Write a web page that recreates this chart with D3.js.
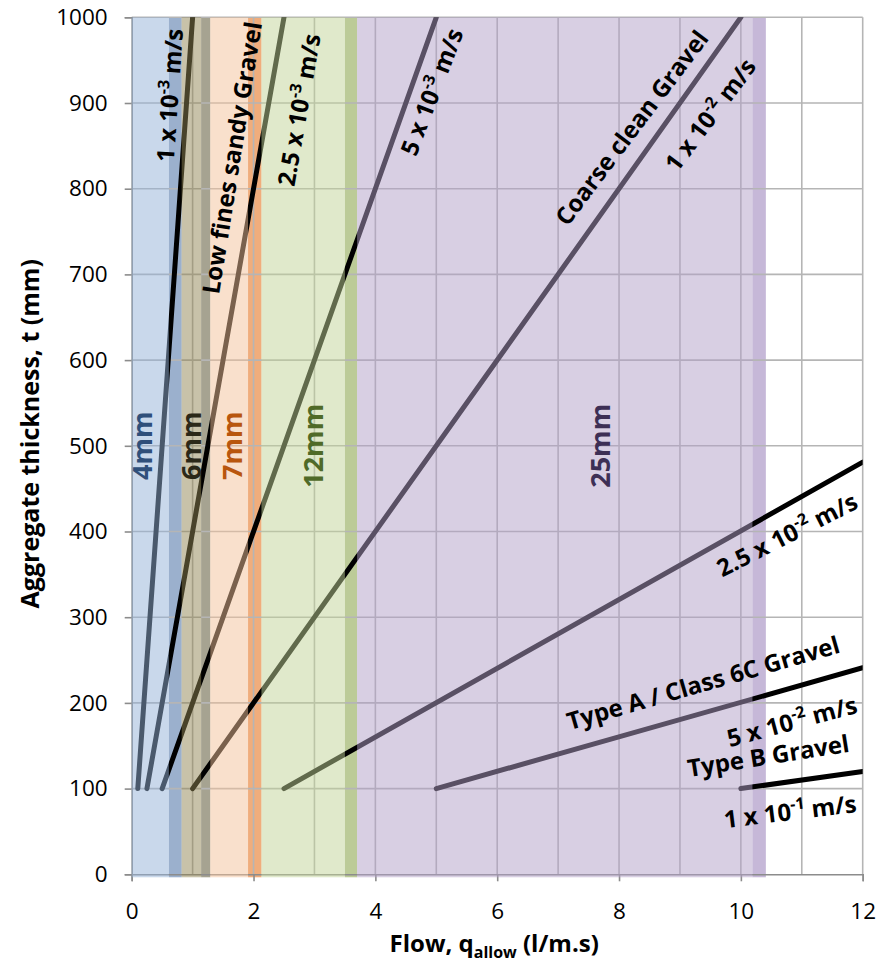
<!DOCTYPE html>
<html>
<head>
<meta charset="utf-8">
<script src="https://cdn.jsdelivr.net/npm/d3@7"></script>
<style>
  body { margin: 0; background: #fff; }
  text { font-family: "Open Sans", sans-serif; }
</style>
</head>
<body>
<svg id="chart" width="877" height="968"></svg>
<script>
// permeability lines: flow q (l/m.s) at t = 100 mm and at the far end
const rateNames = ["1e-3", "2.5e-3", "5e-3", "1e-2", "2.5e-2", "5e-2", "1e-1"];
const startQ = [0.1, 0.25, 0.5, 1, 2.5, 5, 10];
const startT = [100, 100, 100, 100, 100, 100, 100];
const endQ = [1, 2.5, 5, 10, 12, 12, 12];
const endT = [1000, 1000, 1000, 1000, 481, 241, 120];

// aggregate size bands (flow ranges)
const bandNames = ["4mm", "6mm", "7mm", "12mm", "25mm"];
const bandStart = [0, 0.82, 1.29, 2.13, 3.70];
const bandEdge = [0.61, 1.14, 1.91, 3.50, 10.19];
const bandEnd = [0.82, 1.29, 2.13, 3.70, 10.41];

const xTicks = [0, 2, 4, 6, 8, 10, 12];
const yTicks = [0, 100, 200, 300, 400, 500, 600, 700, 800, 900, 1000];

const annoText = ["1 x 10^-3 m/s", "Low fines sandy Gravel", "2.5 x 10^-3 m/s", "5 x 10^-3 m/s",
    "Coarse clean Gravel", "1 x 10^-2 m/s", "2.5 x 10^-2 m/s", "Type A / Class 6C Gravel",
    "5 x 10^-2 m/s", "Type B Gravel", "1 x 10^-1 m/s"];

const svg = d3.select("#chart"),
      margin = { top: 17.3, right: 14.3, bottom: 93.7, left: 131.7 },
      width = +svg.attr("width") - margin.left - margin.right,
      height = +svg.attr("height") - margin.top - margin.bottom;

const g = svg.append("g")
    .attr("transform", `translate(${margin.left},${margin.top})`);

const x = d3.scaleLinear().domain([0, 12]).range([0, width]);
const y = d3.scaleLinear().domain([0, 1000]).range([height, 0]);

// styling per band
const bandLight = ["#93b1d7", "#928553", "#f4c29a", "#c2d398", "#b2a0c8"];
const bandStrip = ["#9bb0cd", "#a6a391", "#f0ad7c", "#bccb98", "#c6b8d8"];
const bandText = ["#2f4f7a", "#2b2818", "#b8560e", "#4f6a28", "#3d2f55"];
const bands = bandNames.map((n, i) => ({
    name: n, x0: bandStart[i], xe: bandEdge[i], x1: bandEnd[i],
    light: bandLight[i], strip: bandStrip[i], text: bandText[i]
}));

// darker strips sit under the lines
g.selectAll(".strip")
    .data(bands)
    .enter()
    .append("rect")
    .attr("class", "strip")
    .attr("x", d => x(d.xe))
    .attr("width", d => x(d.x1) - x(d.xe))
    .attr("y", y(1000))
    .attr("height", height + 3)
    .attr("fill", d => d.strip);

// gridlines
g.selectAll(".vgrid")
    .data(d3.range(1, 13))
    .enter()
    .append("line")
    .attr("x1", d => x(d)).attr("x2", d => x(d))
    .attr("y1", 0).attr("y2", height)
    .attr("stroke", "#b5b5b5")
    .attr("stroke-width", 1.6);

g.selectAll(".hgrid")
    .data(yTicks.slice(1))
    .enter()
    .append("line")
    .attr("x1", 0).attr("x2", width)
    .attr("y1", d => y(d)).attr("y2", d => y(d))
    .attr("stroke", "#b5b5b5")
    .attr("stroke-width", 1.6);

// axes
const xAxis = g.append("g")
    .attr("transform", `translate(0,${height})`)
    .call(d3.axisBottom(x).tickValues(xTicks).tickSize(7).tickPadding(22));
const yAxis = g.append("g")
    .call(d3.axisLeft(y).tickValues(yTicks).tickFormat(d3.format("d")).tickSize(7).tickPadding(17));

[xAxis, yAxis].forEach(a => {
    a.select(".domain").attr("stroke", "#8c8c8c").attr("stroke-width", 1.6);
    a.selectAll(".tick line").attr("stroke", "#8c8c8c").attr("stroke-width", 1.6);
    a.selectAll("text")
        .attr("font-family", "Open Sans, sans-serif")
        .attr("font-size", "22.5px")
        .attr("fill", "#000");
});

// permeability lines
svg.append("clipPath").attr("id", "plotClip")
    .append("rect")
    .attr("width", width).attr("height", height);

const lines = rateNames.map((n, i) => ({
    name: n, pts: [[startQ[i], startT[i]], [endQ[i], endT[i]]]
}));

g.append("g")
    .attr("clip-path", "url(#plotClip)")
    .selectAll("path")
    .data(lines)
    .enter()
    .append("path")
    .attr("d", d => d3.line().x(p => x(p[0])).y(p => y(p[1]))(d.pts))
    .attr("fill", "none")
    .attr("stroke", "#000")
    .attr("stroke-width", 5)
    .attr("stroke-linecap", "round");

// translucent bands over the lines
g.selectAll(".band")
    .data(bands)
    .enter()
    .append("rect")
    .attr("class", "band")
    .attr("x", d => x(d.x0))
    .attr("width", d => x(d.xe) - x(d.x0))
    .attr("y", y(1000))
    .attr("height", height + 3)
    .attr("fill", d => d.light)
    .attr("opacity", 0.5);

// band labels
const bandLabelQ = [0.17, 0.99, 1.65, 2.98, 7.69];
g.selectAll(".band-label")
    .data(bands)
    .enter()
    .append("text")
    .attr("class", "band-label")
    .attr("transform", (d, i) => `translate(${x(bandLabelQ[i])},${y(500)}) rotate(-90)`)
    .attr("text-anchor", "middle")
    .attr("dy", "0.35em")
    .attr("font-size", "27px")
    .attr("font-weight", "bold")
    .attr("fill", d => d.text)
    .text(d => d.name);

// line annotations, positions in data units
const annoQ = [0.63, 1.65, 2.75, 4.93, 8.21, 9.50, 10.76, 9.38, 10.84, 10.45, 10.81];
const annoT = [909, 836, 892, 913, 871, 886, 396, 223, 178, 138, 73];
const annoAngle = [-86, -81, -80, -69, -53, -53, -27, -16, -15, -9, -7];

annoText.forEach((txt, i) => {
    const t = g.append("text")
        .attr("transform", `translate(${x(annoQ[i])},${y(annoT[i])}) rotate(${annoAngle[i]})`)
        .attr("text-anchor", "middle")
        .attr("dy", "0.35em")
        .attr("font-size", "24px")
        .attr("font-weight", "bold")
        .attr("fill", "#000");
    const parts = txt.split(/\^(-?\d+)/);
    parts.forEach((p, j) => {
        if (j % 2 === 1) {
            t.append("tspan").attr("dy", -10).attr("font-size", "16px").text(p);
        } else if (p.length) {
            t.append("tspan").attr("dy", j > 0 ? 10 : null).text(p);
        }
    });
});

// axis titles
const xt = svg.append("text")
    .attr("x", margin.left + width / 2 - 3)
    .attr("y", 952)
    .attr("text-anchor", "middle")
    .attr("font-size", "24px")
    .attr("font-weight", "bold");
xt.append("tspan").text("Flow, q");
xt.append("tspan").attr("dy", 6).attr("font-size", "16px").text("allow");
xt.append("tspan").attr("dy", -6).text(" (l/m.s)");

svg.append("text")
    .attr("transform", `translate(30,${margin.top + height / 2 - 12}) rotate(-90)`)
    .attr("text-anchor", "middle")
    .attr("dy", "0.35em")
    .attr("font-size", "25px")
    .attr("font-weight", "bold")
    .text("Aggregate thickness, t (mm)");
</script>
</body>
</html>
